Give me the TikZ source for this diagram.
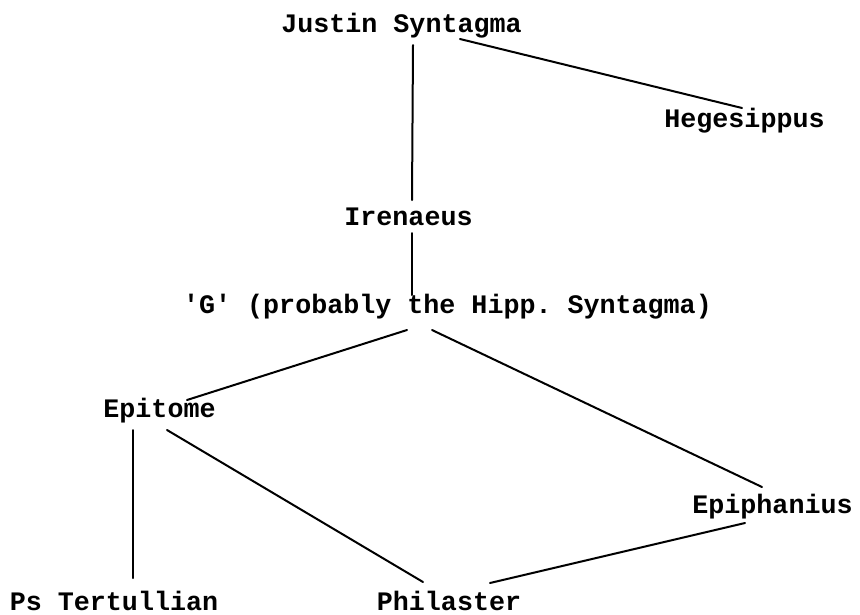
\documentclass[tikz,border=0pt]{standalone}
\usepackage{fontspec}
\setmonofont{Liberation Mono}
\usepackage{tikz}

\begin{document}
\begin{tikzpicture}
  [x=1pt,y=-1pt,line cap=round,
   % Styles
   source/.style={font=\ttfamily\bfseries\fontsize{26.7}{30}\selectfont,
                  inner sep=0pt,anchor=base},
   descent/.style={line width=2pt}]

  % Frame of the page
  \useasboundingbox (0,0) rectangle (860,614);

  % The sources
  \node[source] (justin)     at (401.5,32)  {Justin Syntagma};
  \node[source] (hegesippus) at (744.5,127) {Hegesippus};
  \node[source] (irenaeus)   at (408.5,225) {Irenaeus};
  \node[source] (G)          at (447.5,313) {'G' (probably the Hipp. Syntagma)};
  \node[source] (epitome)    at (159.5,417) {Epitome};
  \node[source] (epiphanius) at (772.5,513) {Epiphanius};
  \node[source] (pstert)     at (114,610)   {Ps Tertullian};
  \node[source] (philaster)  at (449,610)   {Philaster};

  % The lines of descent
  \draw[descent] ([shift={(11.5,13)}]justin.base) -- ([shift={(3.5,-25)}]irenaeus.base);
  \draw[descent] ([shift={(58.5,7)}]justin.base) -- ([shift={(-2.5,-19)}]hegesippus.base);
  \draw[descent] ([shift={(3.5,8)}]irenaeus.base) -- ([shift={(-35.5,-18)}]G.base);
  \draw[descent] ([shift={(-40.5,17)}]G.base) -- ([shift={(27.5,-17)}]epitome.base);
  \draw[descent] ([shift={(-15.5,17)}]G.base) -- ([shift={(-10.5,-26)}]epiphanius.base);
  \draw[descent] ([shift={(-26.5,13)}]epitome.base) -- ([shift={(19,-32)}]pstert.base);
  \draw[descent] ([shift={(7.5,13)}]epitome.base) -- ([shift={(-26,-28)}]philaster.base);
  \draw[descent] ([shift={(-27.5,10)}]epiphanius.base) -- ([shift={(41,-27)}]philaster.base);
\end{tikzpicture}
\end{document}
